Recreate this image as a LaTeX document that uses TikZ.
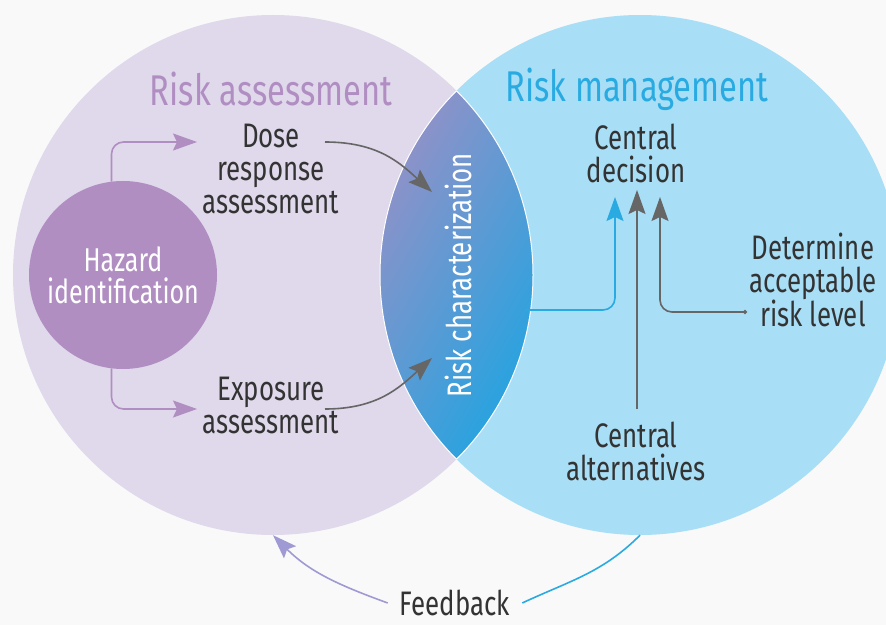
\documentclass[tikz,border=0pt]{standalone}
\usepackage{fontspec}
\setmainfont[FakeStretch=0.76]{Fira Sans}
\usetikzlibrary{arrows.meta}
\usetikzlibrary{positioning}

\definecolor{bgcol}{HTML}{F9F9F9}
\definecolor{assesscol}{HTML}{E0D8EB}
\definecolor{managecol}{HTML}{A8DEF6}
\definecolor{hazardcol}{HTML}{B08EC2}
\definecolor{bluecol}{HTML}{29ABE2}
\definecolor{textcol}{HTML}{333333}
\definecolor{arrowcol}{HTML}{666666}
\definecolor{lenstop}{HTML}{9391C8}
\definecolor{lensmid}{HTML}{4FA0DA}
\definecolor{lensbot}{HTML}{22A4E0}
\definecolor{feedcol}{HTML}{A09AD4}

\tikzstyle{big_circle} = [
    circle,
    inner sep=0pt,
    minimum size=520pt
]
\tikzstyle{hazard_node} = [
    circle,
    fill=hazardcol,
    text=white,
    font=\fontsize{33}{32}\selectfont,
    align=center,
    inner sep=0pt,
    minimum size=188pt
]
\tikzstyle{title_text} = [
    font=\fontsize{43}{46}\selectfont,
    inner sep=0pt
]
\tikzstyle{body_text} = [
    text=textcol,
    font=\fontsize{34}{33}\selectfont,
    align=center,
    inner sep=0pt
]
\tikzstyle{purple_arrow} = [
    draw=hazardcol,
    line width=1.6pt,
    rounded corners=12pt,
    -{Stealth[length=24pt, width=17pt, inset=4pt]}
]
\tikzstyle{gray_arrow} = [
    draw=arrowcol,
    line width=1.6pt,
    rounded corners=12pt,
    -{Stealth[length=24pt, width=17pt, inset=4pt]}
]
\tikzstyle{blue_arrow} = [
    draw=bluecol,
    line width=1.6pt,
    rounded corners=12pt,
    -{Stealth[length=24pt, width=17pt, inset=4pt]}
]

\begin{document}
\begin{tikzpicture}[x=1pt, y=1pt]
\useasboundingbox[fill=bgcol] (0,0) rectangle (886,625);

% the two circles
\node [big_circle, fill=assesscol] (ra_circle) at (273,350) {};
\node [big_circle, fill=managecol] (rm_circle) at (640,350) {};

% overlap of the circles
\begin{scope}
    \clip (273,350) circle[radius=260pt];
    \clip (640,350) circle[radius=260pt];
    \shade [left color=lenstop, middle color=lensmid, right color=lensbot, shading angle=60] (378,162) rectangle (536,538);
\end{scope}
\begin{scope}
    \clip (273,350) circle[radius=260pt];
    \draw [white, line width=1pt] (640,350) circle[radius=260pt];
\end{scope}
\begin{scope}
    \clip (640,350) circle[radius=260pt];
    \draw [white, line width=1pt] (273,350) circle[radius=260pt];
\end{scope}

% titles
\node [title_text, text=hazardcol] (ra) at (271,536) {Risk assessment};
\node [title_text, text=bluecol] (rm) at (637,536) {Risk management};

% nodes
\node [hazard_node] (hz) at (123,350) {Hazard\\identification};
\node [body_text] (dose) at (271,456) {Dose\\response\\assessment};
\node [body_text] (expo) at (271,220) {Exposure\\assessment};
\node [body_text, text=white, rotate=90] (rc) at (458,350) {Risk characterization};
\node [body_text] (cd) at (636,472) {Central\\decision};
\node [body_text] (det) at (813,345) {Determine\\acceptable\\risk level};
\node [body_text] (calt) at (636,174) {Central\\alternatives};
\node [body_text, inner sep=12pt] (fb) at (455,22) {Feedback};

% arrow ends
\coordinate (dose_in) at (197,483);
\coordinate (dose_out) at (325,483);
\coordinate (expo_in) at (197,216);
\coordinate (expo_out) at (325,216);
\coordinate (rc_top) at (432,433);
\coordinate (rc_bot) at (432,267);
\coordinate (rc_out) at (526,315);
\coordinate (cd_left) at (615,428);
\coordinate (cd_mid) at (637,435);
\coordinate (cd_right) at (660,428);
\coordinate (calt_top) at (637,216);
\coordinate (det_out) at (747,313);

% connectors
\draw [purple_arrow] (hz.97) |- (dose_in);
\draw [purple_arrow] (hz.263) |- (expo_in);
\draw [gray_arrow] (dose_out) .. controls (378,483) and (400,462) .. (rc_top);
\draw [gray_arrow] (expo_out) .. controls (378,216) and (400,238) .. (rc_bot);
\draw [blue_arrow] (rc_out) -| (cd_left);
\draw [gray_arrow] (calt_top) -- (cd_mid);
\draw [gray_arrow, {Circle[length=4pt]}-{Stealth[length=24pt, width=17pt, inset=4pt]}] (det_out) -| (cd_right);

% feedback
\draw [draw=feedcol, line width=1.6pt, -{Stealth[length=24pt, width=17pt, inset=4pt]}]
    (fb.west) to[out=160, in=-45] (ra_circle.south);
\draw [draw=bluecol, line width=1.6pt] (fb.east) to[out=25, in=-135] (rm_circle.south);
\end{tikzpicture}
\end{document}
